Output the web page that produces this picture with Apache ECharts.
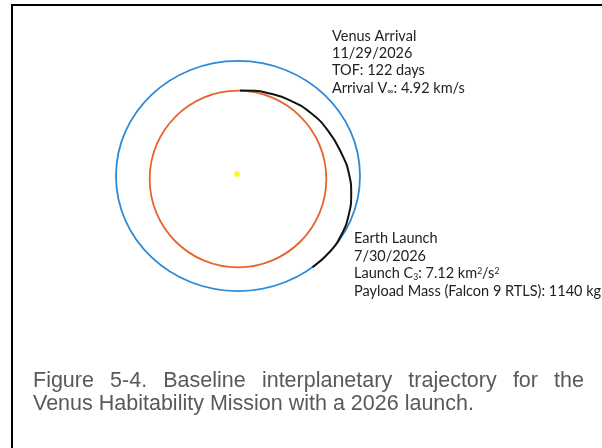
<!DOCTYPE html>
<html>
<head>
<meta charset="utf-8">
<script src="https://cdn.jsdelivr.net/npm/echarts@6/dist/echarts.min.js"></script>
<style>
  html, body { margin: 0; padding: 0; background: #fff; }
  #chart { width: 602px; height: 448px; }
</style>
</head>
<body>
<div id="chart"></div>
<script>
  // orbits (AU)
  const orbitNames = ['Earth', 'Venus'];
  const orbitCenterX = [0, 0];
  const orbitCenterY = [0, -0.025];
  const orbitRadiusX = [1.0, 0.724];
  const orbitRadiusY = [0.943, 0.724];

  const sunPos = [-0.008, 0.016];

  // transfer arc, Earth launch -> Venus arrival
  const transferX = [0.611, 0.752, 0.849, 0.908, 0.928, 0.910, 0.856, 0.742, 0.592, 0.417, 0.234, 0.137, 0.016];
  const transferY = [-0.748, -0.622, -0.479, -0.317, -0.148, 0.016, 0.169, 0.366, 0.520, 0.624, 0.683, 0.698, 0.700];

  const arrivalLines = ['Venus Arrival', '11/29/2026', 'TOF: 122 days', 'Arrival V{sub|\u221e}: 4.92 km/s'];
  const launchLines = ['Earth Launch', '7/30/2026', 'Launch C{sub|3}: 7.12 km{sup|2}/s{sup|2}', 'Payload Mass (Falcon 9 RTLS): 1140 kg'];
  const captionLines = ['Figure 5-4. Baseline interplanetary trajectory for the', 'Venus Habitability Mission with a 2026 launch.'];

  const orbitColors = ['#2d8ad6', '#e5652c'];
  const noteFont = 'Lato, "Open Sans", sans-serif';
  const capFont = '"Liberation Sans", Arial, sans-serif';
  const capSize = 21.5;

  const myChart = echarts.init(document.getElementById('chart'));

  // lines of the annotation blocks
  function noteBlock(lines, x, y0, step) {
    return lines.map((t, i) => ({
      type: 'text',
      x: x,
      y: y0 + i * step,
      silent: true,
      style: {
        text: t,
        fontFamily: noteFont,
        fontSize: 14.5,
        fill: '#222',
        verticalAlign: 'middle',
        rich: {
          sub: { fontSize: 8.5, fontFamily: noteFont, fill: '#222', verticalAlign: 'bottom' },
          sup: { fontSize: 8.5, fontFamily: noteFont, fill: '#222', verticalAlign: 'top' }
        }
      }
    }));
  }

  // first caption line is justified between left and right
  function captionWords(text, left, right, y) {
    const ctx = document.createElement('canvas').getContext('2d');
    ctx.font = capSize + 'px ' + capFont;
    const words = text.split(' ');
    const widths = words.map(w => ctx.measureText(w).width);
    const total = widths.reduce((a, b) => a + b, 0);
    const gap = (right - left - total) / (words.length - 1);
    let x = left;
    return words.map((w, i) => {
      const el = {
        type: 'text', x: x, y: y, silent: true,
        style: { text: w, fontFamily: capFont, fontSize: capSize, fill: '#595959', verticalAlign: 'middle' }
      };
      x += widths[i] + gap;
      return el;
    });
  }

  const graphics = [
    {
      type: 'polyline', silent: true,
      shape: { points: [[12, 448], [12, 5], [602, 5]] },
      style: { stroke: '#000', lineWidth: 2, fill: 'none' }
    }
  ]
    .concat(noteBlock(arrivalLines, 332, 36, 17.4))
    .concat(noteBlock(launchLines, 354, 238, 17.9))
    .concat(captionWords(captionLines[0], 33, 584, 381))
    .concat([{
      type: 'text', x: 33, y: 404, silent: true,
      style: { text: captionLines[1], fontFamily: capFont, fontSize: capSize, fill: '#595959', verticalAlign: 'middle' }
    }]);

  const option = {
    backgroundColor: '#fff',
    animation: false,
    grid: { left: 238 - 146.4, top: 176 - 146.4, width: 292.8, height: 292.8 },
    xAxis: { type: 'value', min: -1.2, max: 1.2, show: false },
    yAxis: { type: 'value', min: -1.2, max: 1.2, show: false },
    series: [
      {
        type: 'custom',
        name: 'orbits',
        silent: true,
        data: orbitNames.map((n, i) => [orbitCenterX[i], orbitCenterY[i], orbitRadiusX[i], orbitRadiusY[i]]),
        renderItem: function (params, api) {
          const c = api.coord([api.value(0), api.value(1)]);
          const s = api.size([api.value(2), api.value(3)]);
          return {
            type: 'ellipse',
            shape: { cx: c[0], cy: c[1], rx: s[0], ry: s[1] },
            style: { fill: 'none', stroke: orbitColors[params.dataIndex], lineWidth: 1.8 }
          };
        }
      },
      {
        type: 'line',
        name: 'transfer',
        smooth: 0.5,
        showSymbol: false,
        silent: true,
        data: transferX.map((x, i) => [x, transferY[i]]),
        lineStyle: { color: '#111', width: 2 }
      },
      {
        type: 'scatter',
        name: 'Sun',
        silent: true,
        data: [sunPos],
        symbolSize: 6,
        itemStyle: { color: '#f7f700' }
      }
    ],
    graphic: graphics
  };

  myChart.setOption(option);
</script>
</body>
</html>
